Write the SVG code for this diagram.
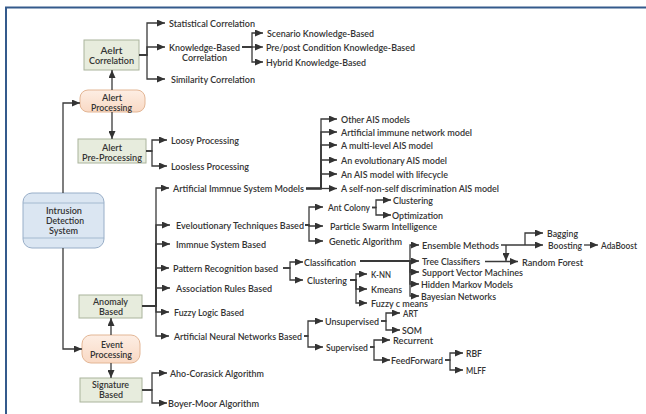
<svg xmlns="http://www.w3.org/2000/svg" width="646" height="414" viewBox="0 0 646 414">
<defs>
<marker id="ah" markerUnits="userSpaceOnUse" markerWidth="8" markerHeight="7" refX="8" refY="3.5" orient="auto">
<path d="M0,0 L8,3.5 L0,7 z" fill="#333"/>
</marker>
<linearGradient id="peach" x1="0" y1="0" x2="0" y2="1">
<stop offset="0" stop-color="#fdeee4"/>
<stop offset="1" stop-color="#f9d9c4"/>
</linearGradient>
</defs>
<style>
text{font-family:Lato,"Liberation Sans",Arial,sans-serif;font-size:9px;font-weight:600;fill:#333;dominant-baseline:central}
.c{text-anchor:middle}
.green{fill:#e7ecdd;stroke:#aab49c;stroke-width:1}
.peach{fill:url(#peach);stroke:#e3b695;stroke-width:1}
.blue{fill:#dbe6f2;stroke:#98aec8;stroke-width:1}
.cn path{fill:none;stroke:#3a3a3a;stroke-width:1.3}
.cn path.a{marker-end:url(#ah)}
.frame{stroke:#345a8c;stroke-width:2;fill:none}
</style>
<rect width="646" height="414" fill="#fff"/>
<path class="frame" d="M6,414 V7.5 H646"/>

<g id="ids">
<rect class="blue" x="23" y="193" width="81" height="55" rx="9"/>
<path d="M23,203 H104 M23,238 H104" stroke="#98aec8" stroke-width="0.8"/>
<text class="c" x="64" y="210" textLength="36" lengthAdjust="spacingAndGlyphs">Intrusion</text>
<text class="c" x="65" y="220" textLength="38" lengthAdjust="spacingAndGlyphs">Detection</text>
<text class="c" x="63.5" y="230" textLength="29" lengthAdjust="spacingAndGlyphs">System</text>
</g>
<g id="alert-processing">
<rect class="peach" x="80" y="90" width="65" height="22" rx="8"/>
<text class="c" x="112" y="97" textLength="20" lengthAdjust="spacingAndGlyphs">Alert</text>
<text class="c" x="111.5" y="107" textLength="41" lengthAdjust="spacingAndGlyphs">Processing</text>
</g>
<g id="alert-correlation">
<rect class="green" x="84" y="40" width="55" height="30"/>
<text class="c" x="111.5" y="50" textLength="22" lengthAdjust="spacingAndGlyphs">Aelrt</text>
<text class="c" x="111.5" y="60" textLength="45" lengthAdjust="spacingAndGlyphs">Correlation</text>
</g>
<g id="alert-preprocessing">
<rect class="green" x="78" y="139" width="68" height="24"/>
<text class="c" x="112" y="147" textLength="20" lengthAdjust="spacingAndGlyphs">Alert</text>
<text class="c" x="112" y="157" textLength="60" lengthAdjust="spacingAndGlyphs">Pre-Processing</text>
</g>
<g id="event-processing">
<rect class="peach" x="82" y="335" width="58" height="28" rx="9"/>
<text class="c" x="112" y="344" textLength="22" lengthAdjust="spacingAndGlyphs">Event</text>
<text class="c" x="111" y="354" textLength="42" lengthAdjust="spacingAndGlyphs">Processing</text>
</g>
<g id="anomaly">
<rect class="green" x="79" y="295" width="63" height="23"/>
<text class="c" x="110.5" y="301" textLength="35" lengthAdjust="spacingAndGlyphs">Anomaly</text>
<text class="c" x="111" y="311" textLength="24" lengthAdjust="spacingAndGlyphs">Based</text>
</g>
<g id="signature">
<rect class="green" x="80" y="378" width="62" height="24"/>
<text class="c" x="110.5" y="384" textLength="37" lengthAdjust="spacingAndGlyphs">Signature</text>
<text class="c" x="111" y="394" textLength="24" lengthAdjust="spacingAndGlyphs">Based</text>
</g>

<g id="connectors" class="cn">
<path class="a" d="M63,193 V103 H80"/>
<path class="a" d="M63,248 V349 H82"/>
<path class="a" d="M112,90 V70"/>
<path class="a" d="M112,112 V139"/>
<path class="a" d="M111,335 V318"/>
<path class="a" d="M111,363 V378"/>
<path class="a" d="M139,55 H147 V23 H165"/>
<path class="a" d="M139,55 H147 V47 H165"/>
<path class="a" d="M139,55 H147 V79 H165"/>
<path class="a" d="M242,47 H252 V33 H263"/>
<path class="a" d="M242,47 H252 V47 H263"/>
<path class="a" d="M242,47 H252 V62 H263"/>
<path class="a" d="M146,151 H152 V140 H167"/>
<path class="a" d="M146,151 H152 V166 H167"/>
<path class="a" d="M142,306 H156 V188 H169"/>
<path class="a" d="M142,306 H156 V225 H170"/>
<path class="a" d="M142,306 H156 V244 H170"/>
<path class="a" d="M142,306 H156 V268 H169"/>
<path class="a" d="M142,306 H156 V288 H170"/>
<path class="a" d="M142,306 H156 V312 H169"/>
<path class="a" d="M142,306 H156 V336 H169"/>
<path class="a" d="M306,188.5 H321 V119 H337"/>
<path class="a" d="M306,188.5 H321 V132 H337"/>
<path class="a" d="M306,188.5 H321 V145 H337"/>
<path class="a" d="M306,188.5 H321 V160 H337"/>
<path class="a" d="M306,188.5 H321 V174 H337"/>
<path class="a" d="M306,188.5 H321 V188.5 H337"/>
<path class="a" d="M305,225 H309 V207 H323"/>
<path class="a" d="M305,225 H309 V226 H323"/>
<path class="a" d="M305,225 H309 V241 H323"/>
<path class="a" d="M372,207.5 H376 V200 H391"/>
<path class="a" d="M372,207.5 H376 V215 H391"/>
<path class="a" d="M283,268 H290 V262 H303"/>
<path class="a" d="M283,268 H290 V280 H303"/>
<path class="a" d="M360,261 H410 V245 H419"/>
<path class="a" d="M360,261 H410 V261 H419"/>
<path class="a" d="M360,261 H410 V272 H419"/>
<path class="a" d="M360,261 H410 V284 H419"/>
<path class="a" d="M360,261 H410 V296 H419"/>
<path class="a" d="M350,280 H356 V274 H367"/>
<path class="a" d="M350,280 H356 V289 H367"/>
<path class="a" d="M350,280 H356 V303 H367"/>
<path class="a" d="M501,245 H543"/>
<path class="a" d="M525,245 V233 H543"/>
<path class="a" d="M506,245 V261"/>
<path class="a" d="M584,245 H598"/>
<path class="a" d="M485,261.5 H518"/>
<path class="a" d="M304,336 H308 V321 H323"/>
<path class="a" d="M304,336 H308 V347 H323"/>
<path class="a" d="M381,321 H386 V313 H400"/>
<path class="a" d="M381,321 H386 V330 H400"/>
<path class="a" d="M370,347 H374 V340 H390"/>
<path class="a" d="M370,347 H374 V360 H390"/>
<path class="a" d="M445,360 H450 V353 H463"/>
<path class="a" d="M445,360 H450 V370 H463"/>
<path class="a" d="M142,390 H152 V373 H167"/>
<path class="a" d="M142,390 H152 V403 H167"/>
</g>

<g id="labels">
<text x="169" y="23" textLength="86" lengthAdjust="spacingAndGlyphs">Statistical Correlation</text>
<text class="c" x="204.5" y="47" textLength="71" lengthAdjust="spacingAndGlyphs">Knowledge-Based</text>
<text class="c" x="204.5" y="57" textLength="45" lengthAdjust="spacingAndGlyphs">Correlation</text>
<text x="171" y="79" textLength="84" lengthAdjust="spacingAndGlyphs">Similarity Correlation</text>
<text x="267" y="33" textLength="107" lengthAdjust="spacingAndGlyphs">Scenario Knowledge-Based</text>
<text x="266" y="47" textLength="149" lengthAdjust="spacingAndGlyphs">Pre/post Condition Knowledge-Based</text>
<text x="266" y="62" textLength="100" lengthAdjust="spacingAndGlyphs">Hybrid Knowledge-Based</text>
<text x="171" y="140" textLength="68" lengthAdjust="spacingAndGlyphs">Loosy Processing</text>
<text x="171" y="166" textLength="78" lengthAdjust="spacingAndGlyphs">Loosless Processing</text>
<text x="173" y="188" textLength="131" lengthAdjust="spacingAndGlyphs">Artificial Immnue System Models</text>
<text x="176" y="225" textLength="128" lengthAdjust="spacingAndGlyphs">Eveloutionary Techniques Based</text>
<text x="176" y="244" textLength="90" lengthAdjust="spacingAndGlyphs">Immnue System Based</text>
<text x="173" y="268" textLength="105" lengthAdjust="spacingAndGlyphs">Pattern Recognition based</text>
<text x="176" y="288" textLength="96" lengthAdjust="spacingAndGlyphs">Association Rules Based</text>
<text x="174" y="312" textLength="70" lengthAdjust="spacingAndGlyphs">Fuzzy Logic Based</text>
<text x="174" y="336" textLength="128" lengthAdjust="spacingAndGlyphs">Artificial Neural Networks Based</text>
<text x="341" y="119" textLength="69" lengthAdjust="spacingAndGlyphs">Other AIS models</text>
<text x="341" y="132" textLength="131" lengthAdjust="spacingAndGlyphs">Artificial immune network model</text>
<text x="341" y="145" textLength="92" lengthAdjust="spacingAndGlyphs">A multi-level AIS model</text>
<text x="341" y="160" textLength="106" lengthAdjust="spacingAndGlyphs">An evolutionary AIS model</text>
<text x="341" y="174" textLength="107" lengthAdjust="spacingAndGlyphs">An AIS model with lifecycle</text>
<text x="341" y="188.5" textLength="158" lengthAdjust="spacingAndGlyphs">A self-non-self discrimination AIS model</text>
<text x="328" y="207" textLength="42" lengthAdjust="spacingAndGlyphs">Ant Colony</text>
<text x="330" y="226" textLength="107" lengthAdjust="spacingAndGlyphs">Particle Swarm Intelligence</text>
<text x="329" y="241" textLength="73" lengthAdjust="spacingAndGlyphs">Genetic Algorithm</text>
<text x="393" y="200" textLength="40" lengthAdjust="spacingAndGlyphs">Clustering</text>
<text x="392" y="215" textLength="51" lengthAdjust="spacingAndGlyphs">Optimization</text>
<text x="304" y="262" textLength="52" lengthAdjust="spacingAndGlyphs">Classification</text>
<text x="307" y="280" textLength="40" lengthAdjust="spacingAndGlyphs">Clustering</text>
<text x="422" y="245" textLength="77" lengthAdjust="spacingAndGlyphs">Ensemble Methods</text>
<text x="422" y="261" textLength="58" lengthAdjust="spacingAndGlyphs">Tree Classifiers</text>
<text x="422" y="272" textLength="101" lengthAdjust="spacingAndGlyphs">Support Vector Machines</text>
<text x="421" y="284" textLength="92" lengthAdjust="spacingAndGlyphs">Hidden Markov Models</text>
<text x="421" y="296" textLength="75" lengthAdjust="spacingAndGlyphs">Bayesian Networks</text>
<text x="547" y="233" textLength="31" lengthAdjust="spacingAndGlyphs">Bagging</text>
<text x="548" y="245" textLength="34" lengthAdjust="spacingAndGlyphs">Boosting</text>
<text x="601" y="245" textLength="36" lengthAdjust="spacingAndGlyphs">AdaBoost</text>
<text x="522" y="262" textLength="61" lengthAdjust="spacingAndGlyphs">Random Forest</text>
<text x="371" y="274" textLength="20" lengthAdjust="spacingAndGlyphs">K-NN</text>
<text x="371" y="289" textLength="31" lengthAdjust="spacingAndGlyphs">Kmeans</text>
<text x="371" y="303" textLength="57" lengthAdjust="spacingAndGlyphs">Fuzzy c means</text>
<text x="325" y="321" textLength="54" lengthAdjust="spacingAndGlyphs">Unsupervised</text>
<text x="326" y="347" textLength="42" lengthAdjust="spacingAndGlyphs">Supervised</text>
<text x="403" y="313" textLength="15" lengthAdjust="spacingAndGlyphs">ART</text>
<text x="402" y="330" textLength="20" lengthAdjust="spacingAndGlyphs">SOM</text>
<text x="393" y="340" textLength="40" lengthAdjust="spacingAndGlyphs">Recurrent</text>
<text x="391" y="360" textLength="52" lengthAdjust="spacingAndGlyphs">FeedForward</text>
<text x="466" y="353" textLength="16" lengthAdjust="spacingAndGlyphs">RBF</text>
<text x="466" y="370" textLength="20" lengthAdjust="spacingAndGlyphs">MLFF</text>
<text x="170" y="373" textLength="94" lengthAdjust="spacingAndGlyphs">Aho-Corasick Algorithm</text>
<text x="168" y="403" textLength="91" lengthAdjust="spacingAndGlyphs">Boyer-Moor Algorithm</text>
</g>
</svg>
